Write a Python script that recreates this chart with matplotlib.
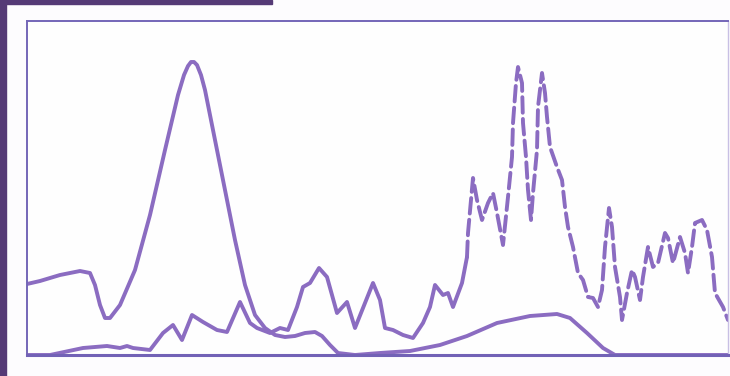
import numpy as np
import matplotlib.pyplot as plt
from matplotlib.patches import Rectangle

# trace 1: big band on the left, then broad low hump
x_a = [0, 13, 33, 53, 63, 68, 73, 78, 83, 93, 108, 123, 138, 151, 157, 161, 164, 167, 170,
       174, 178, 188, 198, 208, 218, 228, 238, 248, 258, 268, 278, 288, 295, 303, 311,
       328, 353, 383, 413, 440, 470, 503, 530, 543, 560, 576, 588, 701]
y_a = [71, 74, 80, 84, 82, 70, 50, 37, 37, 50, 85, 140, 205, 260, 280, 289, 293, 293, 290,
       280, 265, 215, 165, 115, 70, 40, 27, 20, 18, 19, 22, 23, 19, 10, 2,
       0, 2, 4, 10, 19, 32, 39, 41, 37, 22, 7, 0, 0]

# trace 2, solid part
x_b = [0, 23, 56, 80, 93, 100, 106, 123, 136, 146, 155, 165, 176, 190, 200, 213, 223,
       230, 243, 253, 261, 270, 276, 283, 292, 300, 310, 320, 328, 346, 353, 358, 366,
       376, 386, 396, 403, 408, 416, 421, 426, 435, 440]
y_b = [0, 0, 7, 9, 7, 9, 7, 5, 22, 30, 15, 40, 33, 25, 23, 53, 32,
       27, 22, 27, 25, 48, 68, 72, 87, 78, 42, 53, 27, 72, 55, 27, 25,
       20, 17, 32, 48, 70, 60, 62, 48, 72, 98]

# trace 2, dashed part
x_c = [440, 441, 446, 450, 455, 461, 466, 470, 476, 481, 485, 486, 489, 491, 495, 496,
       499, 501, 504, 506, 510, 511, 515, 518, 520, 523, 530, 535, 538, 541, 546, 551,
       556, 561, 566, 571, 575, 578, 582, 585, 588, 593, 595, 600, 605, 608, 613, 616,
       621, 626, 631, 638, 641, 646, 653, 658, 661, 665, 668, 675, 680, 685, 688, 696, 701]
y_c = [98, 122, 177, 155, 135, 152, 162, 142, 110, 158, 198, 232, 272, 288, 272, 232,
       198, 165, 135, 162, 205, 248, 282, 262, 238, 208, 188, 175, 148, 128, 108, 82,
       75, 58, 57, 48, 65, 108, 147, 128, 88, 58, 35, 62, 85, 78, 55, 78,
       108, 88, 92, 122, 117, 92, 118, 102, 82, 108, 132, 135, 125, 98, 62, 48, 35]

line_col = '#8b6cc1'

fig = plt.figure(figsize=(7.3, 3.76), dpi=100)
fig.patch.set_facecolor('#fdfcfe')
ax = fig.add_axes([27/730, 21/376, 701/730, 334/376])
ax.set_facecolor('#fefefe')

ax.plot(x_a, y_a, color=line_col, lw=2.8, solid_joinstyle='round', solid_capstyle='round')
ax.plot(x_b, y_b, color=line_col, lw=2.8, solid_joinstyle='round', solid_capstyle='round')
ax.plot(x_c, y_c, color=line_col, lw=2.8, linestyle=(0, (4, 1.6)),
        dash_joinstyle='round', dash_capstyle='round')

ax.set_xlim(0, 701)
ax.set_ylim(0, 334)
ax.set_xticks([])
ax.set_yticks([])
for side in ['left', 'top']:
    ax.spines[side].set_color('#7466b8')
    ax.spines[side].set_linewidth(1.4)
ax.spines['bottom'].set_color('#7262b6')
ax.spines['bottom'].set_linewidth(2.2)
ax.spines['right'].set_color('#c8c0e4')
ax.spines['right'].set_linewidth(1.0)

# dark border strips along the left and top edges
fig.patches.append(Rectangle((0, 0), 6/730, 1, transform=fig.transFigure,
                             color='#553a76', zorder=5))
fig.patches.append(Rectangle((0, 1 - 4/376), 272/730, 4/376, transform=fig.transFigure,
                             color='#553a76', zorder=5))

fig.savefig('out.png', dpi=100)
